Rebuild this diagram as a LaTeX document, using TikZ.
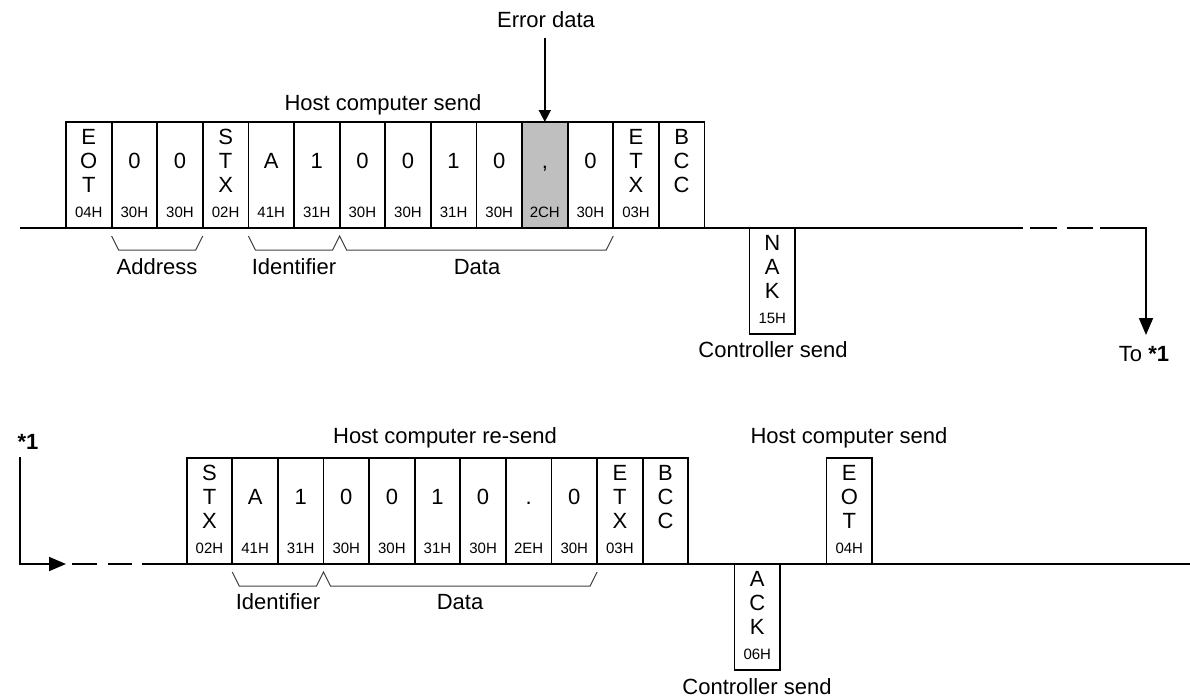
\documentclass[tikz,border=0pt]{standalone}
\usepackage{fontspec}
\setmainfont{Liberation Sans}
\usetikzlibrary{arrows.meta}
\tikzset{
  cellbox/.style={draw, line width=1.8pt, minimum width=45.6pt, minimum height=106pt,
    inner sep=0pt, outer sep=0pt, anchor=north west},
  bigtxt/.style={font=\fontsize{22}{24}\selectfont, inner sep=0pt, outer sep=0pt},
  smalltxt/.style={font=\fontsize{15}{17}\selectfont, inner sep=0pt, outer sep=0pt},
  mainline/.style={line width=1.8pt},
  brk/.style={line width=1pt, black!75},
  bigtip/.style={-{Triangle[length=17pt,width=14pt]}},
}
% name, position, row1, row2, row3, hex, fill
\newcommand\fcell[7]{%
  \node[cellbox,fill=#7] (#1) at (#2) {};
  \node[bigtxt,anchor=base] (#1-a) at ([yshift=-22pt]#1.north) {#3};
  \node[bigtxt,anchor=base] (#1-b) at ([yshift=-46pt]#1.north) {#4};
  \node[bigtxt,anchor=base] (#1-c) at ([yshift=-70pt]#1.north) {#5};
  \node[smalltxt,anchor=base] (#1-h) at ([yshift=-95.5pt]#1.north) {#6};
}
\begin{document}
\begin{tikzpicture}[x=1pt,y=-1pt]
\useasboundingbox (0,0) rectangle (1190,697);

% ---------- top frame ----------
\fcell{t0}{66,122}{E}{O}{T}{04H}{white}
\fcell{t1}{111.6,122}{}{0}{}{30H}{white}
\fcell{t2}{157.2,122}{}{0}{}{30H}{white}
\fcell{t3}{202.8,122}{S}{T}{X}{02H}{white}
\fcell{t4}{248.4,122}{}{A}{}{41H}{white}
\fcell{t5}{294,122}{}{1}{}{31H}{white}
\fcell{t6}{339.6,122}{}{0}{}{30H}{white}
\fcell{t7}{385.2,122}{}{0}{}{30H}{white}
\fcell{t8}{430.8,122}{}{1}{}{31H}{white}
\fcell{t9}{476.4,122}{}{0}{}{30H}{white}
\fcell{t10}{522,122}{}{,}{}{2CH}{black!25}
\fcell{t11}{567.6,122}{}{0}{}{30H}{white}
\fcell{t12}{613.2,122}{E}{T}{X}{03H}{white}
\fcell{t13}{658.8,122}{B}{C}{C}{}{white}

\fcell{nak}{749.5,228}{N}{A}{K}{15H}{white}

% top line
\coordinate (L1s) at (20,228);
\coordinate (L1e) at (1023,228);
\coordinate (L1d1) at (1030,228);
\coordinate (L1d2) at (1093,228);
\coordinate (L1f) at (1100,228);
\coordinate (L1c) at (1146,228);
\coordinate (L1t) at (1146,335);
\draw[mainline] (L1s) -- (L1e);
\draw[mainline, dash pattern=on 27pt off 10pt] (L1d1) -- (L1d2);
\draw[mainline, bigtip] (L1f) -- (L1c) -- (L1t);

% error data
\node[bigtxt, anchor=base] (err) at (546,27) {Error data};
\coordinate (errs) at (544.8,38);
\draw[line width=1.6pt, -{Triangle[length=12pt,width=12pt]}] (errs) -- (t10.north);

\node[bigtxt, anchor=base] (hcs1) at (383,110) {Host computer send};

% brackets top
\draw[brk] ([yshift=-8pt]t1.south west) -- ++(7,14) -- ([xshift=-7pt,yshift=-22pt]t3.south west) -- ([yshift=-8pt]t3.south west);
\draw[brk] ([yshift=-8pt]t4.south west) -- ++(7,14) -- ([xshift=-7pt,yshift=-22pt]t6.south west) -- ([yshift=-8pt]t6.south west)
  -- ([xshift=7pt,yshift=-22pt]t6.south west) -- ([xshift=-7pt,yshift=-22pt]t12.south west) -- ([yshift=-8pt]t12.south west);
\node[bigtxt] (addr) at (157,267) {Address};
\node[bigtxt] (id1) at (294,267) {Identifier};
\node[bigtxt] (data1) at (477,267) {Data};

\node[bigtxt] (cs1) at (773,350) {Controller send};
\node[bigtxt, anchor=base] (to1) at (1144,361) {To \textbf{*1}};

% ---------- bottom frame ----------
\node[bigtxt, anchor=base, font=\fontsize{22}{24}\selectfont\bfseries] (star) at (28,449) {*1};

\fcell{b0}{186.7,458}{S}{T}{X}{02H}{white}
\fcell{b1}{232.3,458}{}{A}{}{41H}{white}
\fcell{b2}{277.9,458}{}{1}{}{31H}{white}
\fcell{b3}{323.5,458}{}{0}{}{30H}{white}
\fcell{b4}{369.1,458}{}{0}{}{30H}{white}
\fcell{b5}{414.7,458}{}{1}{}{31H}{white}
\fcell{b6}{460.3,458}{}{0}{}{30H}{white}
\fcell{b7}{505.9,458}{}{.}{}{2EH}{white}
\fcell{b8}{551.5,458}{}{0}{}{30H}{white}
\fcell{b9}{597.1,458}{E}{T}{X}{03H}{white}
\fcell{b10}{642.7,458}{B}{C}{C}{}{white}

\fcell{ack}{734.5,564}{A}{C}{K}{06H}{white}
\fcell{eot}{826.5,458}{E}{O}{T}{04H}{white}

% bottom line
\coordinate (L2a) at (20,457);
\coordinate (L2b) at (20,564);
\coordinate (L2c) at (66,564);
\coordinate (L2d1) at (72,564);
\coordinate (L2d2) at (132,564);
\coordinate (L2s) at (142,564);
\coordinate (L2e) at (1190,564);
\draw[mainline, bigtip] (L2a) -- (L2b) -- (L2c);
\draw[mainline, dash pattern=on 25pt off 11pt] (L2d1) -- (L2d2);
\draw[mainline] (L2s) -- (L2e);

\node[bigtxt, anchor=base] (hcr) at (445,443) {Host computer re-send};
\node[bigtxt, anchor=base] (hcs2) at (849,443) {Host computer send};

% brackets bottom
\draw[brk] ([yshift=-8pt]b1.south west) -- ++(7,14) -- ([xshift=-7pt,yshift=-22pt]b3.south west) -- ([yshift=-8pt]b3.south west)
  -- ([xshift=7pt,yshift=-22pt]b3.south west) -- ([xshift=-7pt,yshift=-22pt]b9.south west) -- ([yshift=-8pt]b9.south west);
\node[bigtxt] (id2) at (278,602) {Identifier};
\node[bigtxt] (data2) at (460,602) {Data};

\node[bigtxt, anchor=base] (cs2) at (757,694) {Controller send};
\end{tikzpicture}
\end{document}
